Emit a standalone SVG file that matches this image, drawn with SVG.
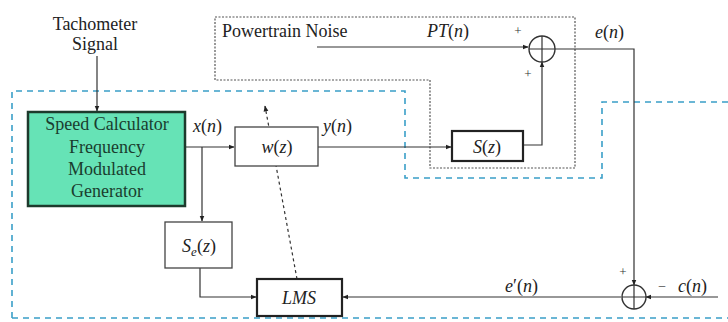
<svg xmlns="http://www.w3.org/2000/svg" width="728" height="322" viewBox="0 0 728 322" font-family="'Liberation Serif', 'Times New Roman', 'DejaVu Serif', serif">
<defs>
<style>
text{font-family:"Liberation Serif","Times New Roman","DejaVu Serif",serif;fill:#222;}
.lbl{font-size:18px;}
.box-t{font-size:18px;fill:#1a3d2e;}
.it{font-style:italic;font-size:18px;}
.n{font-style:normal;}
.pm{font-size:13px;fill:#333;}
.w{stroke:#333;stroke-width:1.2;fill:none;}
.box{fill:#fff;stroke:#444;stroke-width:1.3;}
.tbox{fill:#fff;stroke:#222;stroke-width:2.2;}
.cyan{stroke:#3a9fc8;stroke-width:1.6;fill:none;stroke-dasharray:6 5;}
.dot{stroke:#555;stroke-width:1.2;fill:none;stroke-dasharray:2 1.5;}
</style>
<marker id="ah" viewBox="0 0 10 10" refX="9" refY="5" markerWidth="6" markerHeight="6" orient="auto" markerUnits="userSpaceOnUse">
<path d="M0,1 L10,5 L0,9 z" fill="#222"/>
</marker>
</defs>
<rect width="728" height="322" fill="#fff"/>
<g id="regions">
<path d="M12,318 L12,91 L405,91 L405,178 L602,178 L602,102 L728,102" class="cyan"/>
<path d="M12,318 L728,318" class="cyan"/>
<path d="M215,80 L215,17 L575,17 L575,168 L430,168 L430,80 Z" class="dot"/>
</g>
<g id="connectors">
<path d="M97,56 L97,111" class="w" marker-end="url(#ah)"/>
<path d="M186,147 L234,147" class="w" marker-end="url(#ah)"/>
<path d="M202,147 L202,221" class="w" marker-end="url(#ah)"/>
<path d="M318,147 L451,147" class="w" stroke-width="1.5" marker-end="url(#ah)"/>
<path d="M317,47 L528,47" class="w" stroke-width="1.5" marker-end="url(#ah)"/>
<path d="M523,145 L542,145 L542,62" class="w" marker-end="url(#ah)"/>
<path d="M555,49 L634,49 L634,285" class="w" marker-end="url(#ah)"/>
<path d="M718,297 L646,297" class="w" marker-end="url(#ah)"/>
<path d="M621,297 L343,297" class="w" marker-end="url(#ah)"/>
<path d="M200,268 L200,297 L256,297" class="w" marker-end="url(#ah)"/>
<path d="M297,279 L265,106" stroke="#333" stroke-width="1.2" fill="none" stroke-dasharray="3 3" marker-end="url(#ah)"/>
</g>
<g id="tachometer">
<text x="95" y="30" class="lbl" text-anchor="middle">Tachometer</text>
<text x="95" y="50" class="lbl" text-anchor="middle">Signal</text>
</g>
<g id="speed-calculator">
<rect x="28" y="112" width="157" height="94" fill="#66e3b6" stroke="#1d3a2c" stroke-width="2.5"/>
<text x="107" y="130" class="box-t" text-anchor="middle">Speed Calculator</text>
<text x="107" y="153" class="box-t" text-anchor="middle">Frequency</text>
<text x="107" y="175" class="box-t" text-anchor="middle">Modulated</text>
<text x="107" y="197" class="box-t" text-anchor="middle">Generator</text>
</g>
<g id="wz">
<rect x="235" y="127" width="83" height="39" class="box"/>
<text x="277" y="153" class="it" text-anchor="middle" font-size="17">w<tspan class="n">(</tspan>z<tspan class="n">)</tspan></text>
</g>
<g id="sz">
<rect x="452" y="131" width="71" height="30" class="tbox"/>
<text x="487" y="153" class="it" text-anchor="middle" font-size="21">S<tspan class="n">(</tspan>z<tspan class="n">)</tspan></text>
</g>
<g id="sez">
<rect x="165" y="222" width="67" height="46" class="box"/>
<text x="199" y="252" class="it" text-anchor="middle" font-size="21">S<tspan font-size="13" dy="4">e</tspan><tspan dy="-4" class="n">(</tspan>z<tspan class="n">)</tspan></text>
</g>
<g id="lms">
<rect x="257" y="279" width="85" height="37" class="tbox"/>
<text x="299" y="304" class="it" text-anchor="middle" font-size="19">LMS</text>
</g>
<g id="sum-top">
<circle cx="542" cy="49" r="13" fill="#fff" stroke="#333" stroke-width="1.4"/>
<path d="M529,49 L555,49 M542,36 L542,62" stroke="#333" stroke-width="1.2"/>
<text x="518" y="35" class="pm" text-anchor="middle">+</text>
<text x="528" y="78" class="pm" text-anchor="middle">+</text>
</g>
<g id="sum-bottom">
<circle cx="634" cy="297" r="12" fill="#fff" stroke="#333" stroke-width="1.4"/>
<path d="M622,297 L646,297 M634,285 L634,309" stroke="#333" stroke-width="1.2"/>
<text x="623" y="276" class="pm" text-anchor="middle">+</text>
<text x="662" y="289" class="pm" text-anchor="middle">–</text>
</g>
<g id="labels">
<text x="222" y="37" class="lbl" font-size="18.5">Powertrain Noise</text>
<text x="427" y="37" class="it">PT<tspan class="n">(</tspan>n<tspan class="n">)</tspan></text>
<text x="595" y="38" class="it">e<tspan class="n">(</tspan>n<tspan class="n">)</tspan></text>
<text x="193" y="132" class="it">x<tspan class="n">(</tspan>n<tspan class="n">)</tspan></text>
<text x="323" y="132" class="it">y<tspan class="n">(</tspan>n<tspan class="n">)</tspan></text>
<text x="505" y="292" class="it" font-size="19">e<tspan class="n">′(</tspan>n<tspan class="n">)</tspan></text>
<text x="678" y="292" class="it" font-size="19">c<tspan class="n">(</tspan>n<tspan class="n">)</tspan></text>
</g>
</svg>
